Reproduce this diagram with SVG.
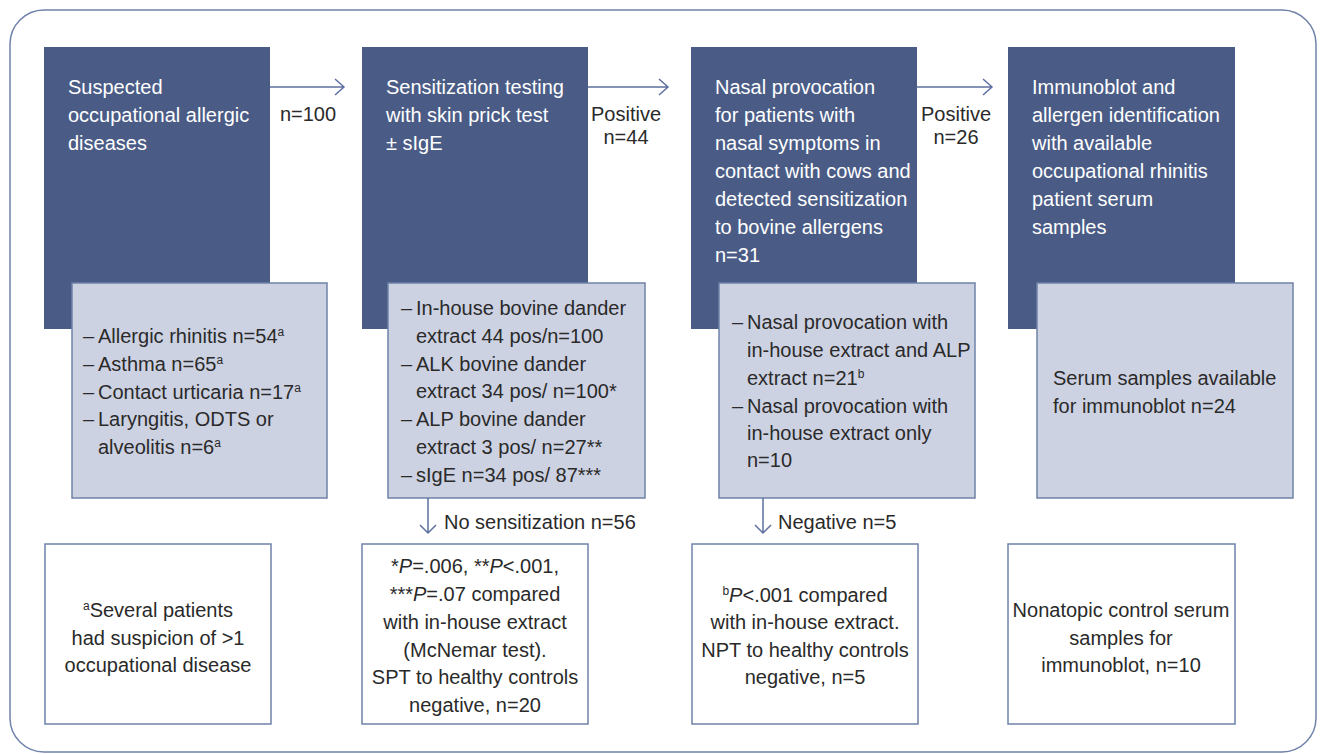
<svg xmlns="http://www.w3.org/2000/svg" width="1323" height="754" viewBox="0 0 1323 754">
<style>
.frame{fill:#ffffff;stroke:#6f82a9;stroke-width:1.5}
.dark{fill:#4a5c86}
.light{fill:#cdd2e2;stroke:#6f82a9;stroke-width:1.5}
.note{fill:#ffffff;stroke:#6f82a9;stroke-width:1.5}
text{font-family:"Liberation Sans",Arial,sans-serif;font-size:20px;fill:#2a2a2a}
.w{fill:#ffffff}
.c{text-anchor:middle}
.sup{font-size:12px}
.conn{fill:none;stroke:#5d70a0;stroke-width:1.5}
</style>
<rect class="frame" x="10" y="10" width="1306" height="742" rx="34" ry="34"/>

<g id="node1">
<rect class="dark" x="44" y="47" width="226" height="282"/>
<text class="w" x="68" y="94">Suspected</text>
<text class="w" x="68" y="122">occupational allergic</text>
<text class="w" x="68" y="150">diseases</text>
<rect class="light" x="72" y="283" width="255" height="215"/>
<text x="83" y="343">–</text><text x="98" y="343">Allergic rhinitis n=54<tspan class="sup" dy="-7">a</tspan></text>
<text x="83" y="371">–</text><text x="98" y="371">Asthma n=65<tspan class="sup" dy="-7">a</tspan></text>
<text x="83" y="398.5">–</text><text x="98" y="398.5">Contact urticaria n=17<tspan class="sup" dy="-7">a</tspan></text>
<text x="83" y="426">–</text><text x="98" y="426">Laryngitis, ODTS or</text>
<text x="98" y="454">alveolitis n=6<tspan class="sup" dy="-7">a</tspan></text>
</g>

<g id="node2">
<rect class="dark" x="362" y="47" width="226" height="282"/>
<text class="w" x="386" y="94">Sensitization testing</text>
<text class="w" x="386" y="122">with skin prick test</text>
<text class="w" x="386" y="150">± sIgE</text>
<rect class="light" x="388" y="283" width="257" height="215"/>
<text x="401" y="315">–</text><text x="416" y="315">In-house bovine dander</text>
<text x="416" y="343">extract 44 pos/n=100</text>
<text x="401" y="370.5">–</text><text x="416" y="370.5">ALK bovine dander</text>
<text x="416" y="398">extract 34 pos/ n=100*</text>
<text x="401" y="426">–</text><text x="416" y="426">ALP bovine dander</text>
<text x="416" y="454">extract 3 pos/ n=27**</text>
<text x="401" y="482">–</text><text x="416" y="482">sIgE n=34 pos/ 87***</text>
</g>

<g id="node3">
<rect class="dark" x="691" y="47" width="226" height="282"/>
<text class="w" x="715" y="94">Nasal provocation</text>
<text class="w" x="715" y="122">for patients with</text>
<text class="w" x="715" y="150">nasal symptoms in</text>
<text class="w" x="715" y="178">contact with cows and</text>
<text class="w" x="715" y="206">detected sensitization</text>
<text class="w" x="715" y="234">to bovine allergens</text>
<text class="w" x="715" y="262">n=31</text>
<rect class="light" x="719" y="283" width="256" height="215"/>
<text x="732" y="329">–</text><text x="747" y="329">Nasal provocation with</text>
<text x="747" y="357">in-house extract and ALP</text>
<text x="747" y="385">extract n=21<tspan class="sup" dy="-7">b</tspan></text>
<text x="732" y="413">–</text><text x="747" y="413">Nasal provocation with</text>
<text x="747" y="440">in-house extract only</text>
<text x="747" y="467">n=10</text>
</g>

<g id="node4">
<rect class="dark" x="1008" y="47" width="227" height="282"/>
<text class="w" x="1032" y="94">Immunoblot and</text>
<text class="w" x="1032" y="122">allergen identification</text>
<text class="w" x="1032" y="150">with available</text>
<text class="w" x="1032" y="178">occupational rhinitis</text>
<text class="w" x="1032" y="206">patient serum</text>
<text class="w" x="1032" y="234">samples</text>
<rect class="light" x="1037" y="283" width="256" height="215"/>
<text x="1053" y="385">Serum samples available</text>
<text x="1053" y="413">for immunoblot n=24</text>
</g>

<g id="note1">
<rect class="note" x="45" y="544" width="226" height="180"/>
<text class="c" x="158" y="617"><tspan class="sup" dy="-7">a</tspan><tspan dy="7">Several patients</tspan></text>
<text class="c" x="158" y="645">had suspicion of &gt;1</text>
<text class="c" x="158" y="672">occupational disease</text>
</g>

<g id="note2">
<rect class="note" x="362" y="544" width="226" height="180"/>
<text class="c" x="475" y="573">*<tspan font-style="italic">P</tspan>=.006, **<tspan font-style="italic">P</tspan>&lt;.001,</text>
<text class="c" x="475" y="601">***<tspan font-style="italic">P</tspan>=.07 compared</text>
<text class="c" x="475" y="629">with in-house extract</text>
<text class="c" x="475" y="657">(McNemar test).</text>
<text class="c" x="475" y="684">SPT to healthy controls</text>
<text class="c" x="475" y="712">negative, n=20</text>
</g>

<g id="note3">
<rect class="note" x="692" y="544" width="226" height="180"/>
<text class="c" x="805" y="602"><tspan class="sup" dy="-7">b</tspan><tspan dy="7" font-style="italic">P</tspan>&lt;.001 compared</text>
<text class="c" x="805" y="629">with in-house extract.</text>
<text class="c" x="805" y="657">NPT to healthy controls</text>
<text class="c" x="805" y="684">negative, n=5</text>
</g>

<g id="note4">
<rect class="note" x="1008" y="544" width="227" height="180"/>
<text class="c" x="1121" y="617">Nonatopic control serum</text>
<text class="c" x="1121" y="645">samples for</text>
<text class="c" x="1121" y="672">immunoblot, n=10</text>
</g>

<g id="connectors">
<path class="conn" d="M270 87 H344 M335 79 L344 87 L335 95"/>
<text class="c" x="308" y="121">n=100</text>
<path class="conn" d="M588 87 H668 M659 79 L668 87 L659 95"/>
<text class="c" x="626" y="121">Positive</text>
<text class="c" x="626" y="144">n=44</text>
<path class="conn" d="M917 87 H992 M983 79 L992 87 L983 95"/>
<text class="c" x="956" y="121">Positive</text>
<text class="c" x="956" y="144">n=26</text>
<path class="conn" d="M428 498 V533 M420 525 L428 533 L436 525"/>
<text x="444" y="529">No sensitization n=56</text>
<path class="conn" d="M763 498 V533 M755 525 L763 533 L771 525"/>
<text x="778" y="529">Negative n=5</text>
</g>
</svg>
